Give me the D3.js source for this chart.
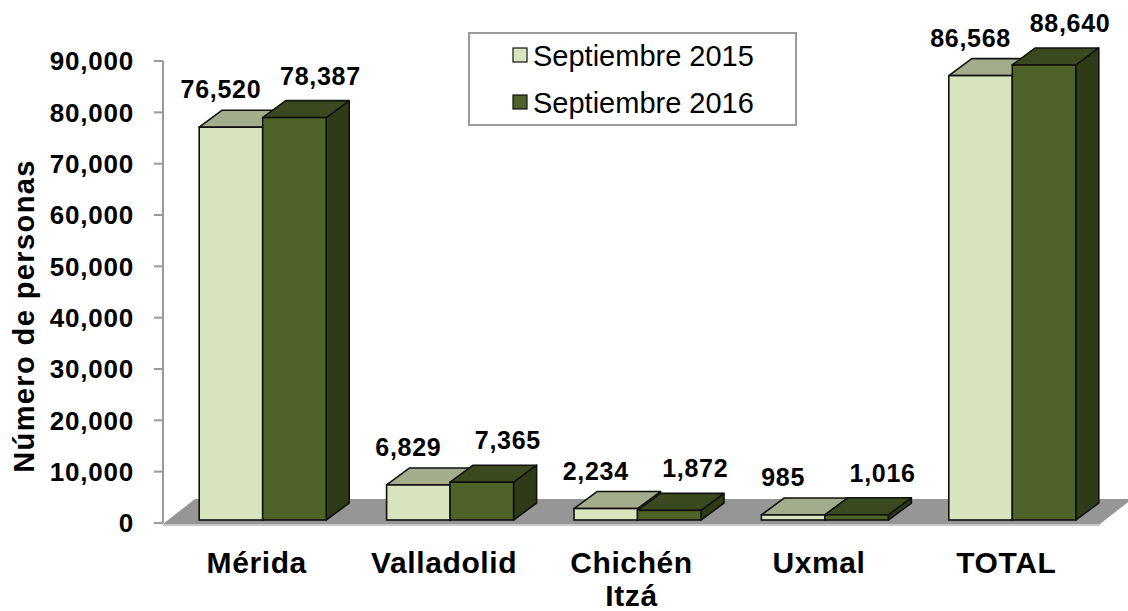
<!DOCTYPE html>
<html>
<head>
<meta charset="utf-8">
<script src="https://cdnjs.cloudflare.com/ajax/libs/d3/7.8.5/d3.min.js"></script>
<style>
  body { margin: 0; background: #fff; }
  text { font-family: "Liberation Sans", Arial, sans-serif; }
</style>
</head>
<body>
<div id="chart"></div>
<script>
// data
const categories = ["Mérida", "Valladolid", "Chichén Itzá", "Uxmal", "TOTAL"];
const series = ["Septiembre 2015", "Septiembre 2016"];
const values2015 = [76520, 6829, 2234, 985, 86568];
const values2016 = [78387, 7365, 1872, 1016, 88640];
const yTicks = [0, 10000, 20000, 30000, 40000, 50000, 60000, 70000, 80000, 90000];

const width = 1128, height = 611;
const plotLeft = 163, plotRight = 1100, plotTop = 61, plotBottom = 523;
const depth = { dx: 23, dy: -17 };      // bar depth offset
const floorDepth = { dx: 32, dy: -24 }; // floor depth offset
const inset = { dx: 6, dy: -3 };        // bar front sits a bit back on the floor

const colors = [
    { front: "#d7e4bd", top: "#a3ad8c", side: "#8f9a78" },
    { front: "#4f6228", top: "#3b4a1e", side: "#2f3b17" }
];

const svg = d3.select("#chart").append("svg")
    .attr("width", width)
    .attr("height", height);

const x = d3.scaleBand().domain(categories).range([plotLeft, plotRight]);
const y = d3.scaleLinear().domain([0, 90000]).range([plotBottom, plotTop]);
const barW = 63.5;

// floor
svg.append("polygon")
    .attr("points", [
        [plotLeft, plotBottom + 1],
        [plotRight, plotBottom + 1],
        [plotRight + floorDepth.dx, plotBottom + floorDepth.dy],
        [plotLeft + floorDepth.dx, plotBottom + floorDepth.dy]
    ].map(p => p.join(",")).join(" "))
    .style("fill", "#969696");
svg.append("line")
    .attr("x1", plotLeft).attr("x2", plotRight)
    .attr("y1", plotBottom + 2).attr("y2", plotBottom + 2)
    .style("stroke", "#c8c8c8").style("stroke-width", 2);

// y axis
const axis = svg.append("g");
axis.append("line")
    .attr("x1", plotLeft).attr("x2", plotLeft)
    .attr("y1", y(90000)).attr("y2", y(0))
    .style("stroke", "#9a9a9a").style("stroke-width", 2);
axis.selectAll(".tick").data(yTicks).enter().append("line")
    .attr("x1", plotLeft - 9).attr("x2", plotLeft)
    .attr("y1", d => y(d)).attr("y2", d => y(d))
    .style("stroke", "#9a9a9a").style("stroke-width", 2);
axis.selectAll(".tlabel").data(yTicks).enter().append("text")
    .attr("x", 134)
    .attr("y", d => y(d))
    .attr("dy", "0.36em")
    .attr("text-anchor", "end")
    .style("font-size", "26px")
    .style("font-weight", "bold")
    .style("letter-spacing", "0.8px")
    .text(d => d3.format(",")(d));

svg.append("text")
    .attr("transform", "translate(34,316) rotate(-90)")
    .attr("text-anchor", "middle")
    .style("font-size", "29px")
    .style("font-weight", "bold")
    .style("letter-spacing", "1.4px")
    .text("Número de personas");

// bars
const bars = [];
categories.forEach((c, i) => {
    [values2015[i], values2016[i]].forEach((v, s) => {
        const cx = x(c) + x.bandwidth() / 2 + inset.dx;
        const x0 = cx - barW + s * barW, x1 = x0 + barW;
        const yb = y(0) + inset.dy, yt = y(v) + inset.dy;
        bars.push({ c, s, v, x0, x1, yb, yt });
    });
});

const g = svg.selectAll(".bar").data(bars).enter().append("g");
const stroke = { stroke: "#111", width: 1.6 };
g.append("polygon")
    .attr("points", d => [[d.x1, d.yt], [d.x1 + depth.dx, d.yt + depth.dy],
        [d.x1 + depth.dx, d.yb + depth.dy], [d.x1, d.yb]].map(p => p.join(",")).join(" "))
    .style("fill", d => colors[d.s].side)
    .style("stroke", stroke.stroke).style("stroke-width", stroke.width)
    .style("stroke-linejoin", "round");
g.append("polygon")
    .attr("points", d => [[d.x0, d.yt], [d.x0 + depth.dx, d.yt + depth.dy],
        [d.x1 + depth.dx, d.yt + depth.dy], [d.x1, d.yt]].map(p => p.join(",")).join(" "))
    .style("fill", d => colors[d.s].top)
    .style("stroke", stroke.stroke).style("stroke-width", stroke.width)
    .style("stroke-linejoin", "round");
g.append("rect")
    .attr("x", d => d.x0).attr("y", d => d.yt)
    .attr("width", barW).attr("height", d => d.yb - d.yt)
    .style("fill", d => colors[d.s].front)
    .style("stroke", stroke.stroke).style("stroke-width", stroke.width);

// value labels
svg.selectAll(".vlabel").data(bars).enter().append("text")
    .attr("x", d => (d.x0 + d.x1) / 2 + (d.s === 0 ? -10 : 26))
    .attr("y", d => d.yt - (d.s === 0 ? 38 : 42))
    .attr("dy", "0.36em")
    .attr("text-anchor", "middle")
    .style("font-size", "25px")
    .style("font-weight", "bold")
    .style("letter-spacing", "0.7px")
    .text(d => d3.format(",")(d.v));

// category labels
const cat = svg.selectAll(".clabel").data(categories).enter().append("text")
    .attr("x", d => x(d) + x.bandwidth() / 2)
    .attr("y", 573)
    .attr("text-anchor", "middle")
    .style("font-size", "30px")
    .style("font-weight", "bold")
    .style("letter-spacing", "0.6px");
cat.each(function (d) {
    const words = d === "Chichén Itzá" ? ["Chichén", "Itzá"] : [d];
    const t = d3.select(this);
    words.forEach((w, k) => {
        t.append("tspan")
            .attr("x", x(d) + x.bandwidth() / 2)
            .attr("dy", k === 0 ? 0 : 33)
            .text(w);
    });
});

// legend
const legend = svg.append("g");
legend.append("rect")
    .attr("x", 469).attr("y", 33).attr("width", 327).attr("height", 92)
    .style("fill", "#fff").style("stroke", "#9a9a9a").style("stroke-width", 2);
series.forEach((s, i) => {
    const cy = 55 + i * 47;
    legend.append("rect")
        .attr("x", 513).attr("y", cy - 7).attr("width", 14).attr("height", 14)
        .style("fill", colors[i].front).style("stroke", "#111").style("stroke-width", 1.2);
    legend.append("text")
        .attr("x", 533).attr("y", cy + 10.5)
        .style("font-size", "29px")
        .text(s);
});
</script>
</body>
</html>
